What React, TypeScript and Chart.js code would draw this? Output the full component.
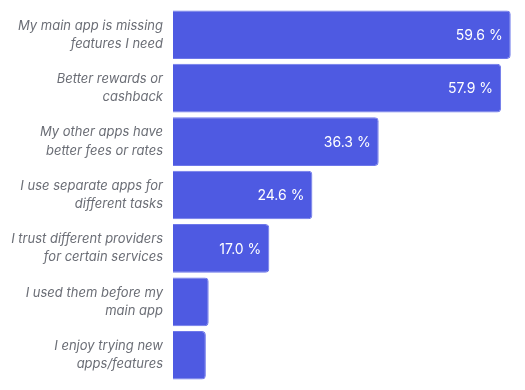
import React, { useEffect, useRef } from "react";
import { Chart, registerables } from "chart.js";

Chart.register(...registerables);

const categories: string[][] = [
  ["My main app is missing", "features I need"],
  ["Better rewards or", "cashback"],
  ["My other apps have", "better fees or rates"],
  ["I use separate apps for", "different tasks"],
  ["I trust different providers", "for certain services"],
  ["I used them before my", "main app"],
  ["I enjoy trying new", "apps/features"],
];
const values: number[] = [59.6, 57.9, 36.3, 24.6, 17.0, 6.3, 5.8];
const labelThreshold = 10;

const valueLabels = {
  id: "valueLabels",
  afterDatasetsDraw(chart: any) {
    const ctx = chart.ctx;
    const meta = chart.getDatasetMeta(0);
    ctx.save();
    ctx.fillStyle = "#ffffff";
    ctx.font = "14px Inter, 'Noto Sans', sans-serif";
    ctx.textAlign = "right";
    ctx.textBaseline = "middle";
    meta.data.forEach((bar: any, i: number) => {
      const v = values[i];
      if (v < labelThreshold) return;
      ctx.fillText(v.toFixed(1) + " %", bar.x - 8, bar.y + 1);
    });
    ctx.restore();
  },
};

export default function App() {
  const ref = useRef<HTMLCanvasElement>(null);
  useEffect(() => {
    if (!ref.current) return;
    const chart = new Chart(ref.current, {
      type: "bar",
      data: {
        labels: categories,
        datasets: [
          {
            data: values,
            backgroundColor: "#4E5AE2",
            borderColor: "#6E78EA",
            borderWidth: 1,
            borderRadius: 4,
            borderSkipped: "start",
            barPercentage: 0.91,
            categoryPercentage: 1,
          },
        ],
      },
      options: {
        indexAxis: "y",
        animation: false,
        responsive: true,
        maintainAspectRatio: false,
        layout: { padding: { top: 0, bottom: 0, left: 0, right: 4 } },
        plugins: {
          legend: { display: false },
          tooltip: { enabled: false },
        },
        scales: {
          x: {
            display: false,
            min: 0,
            max: 60,
          },
          y: {
            grid: { display: false, drawTicks: false, tickLength: 0 },
            border: { display: false },
            afterFit(scale: any) {
              scale.width = 165;
              scale.paddingTop = 0;
              scale.paddingBottom = 0;
            },
            ticks: {
              color: "#6B6E76",
              padding: 10,
              font: {
                family: "Inter, 'Noto Sans', sans-serif",
                size: 13,
                style: "italic",
                lineHeight: 1.4,
              },
            },
          },
        },
      },
      plugins: [valueLabels],
    });
    return () => chart.destroy();
  }, []);
  return (
    <div style={{ width: 509, height: 374, position: "relative" }}>
      <canvas ref={ref} />
    </div>
  );
}
